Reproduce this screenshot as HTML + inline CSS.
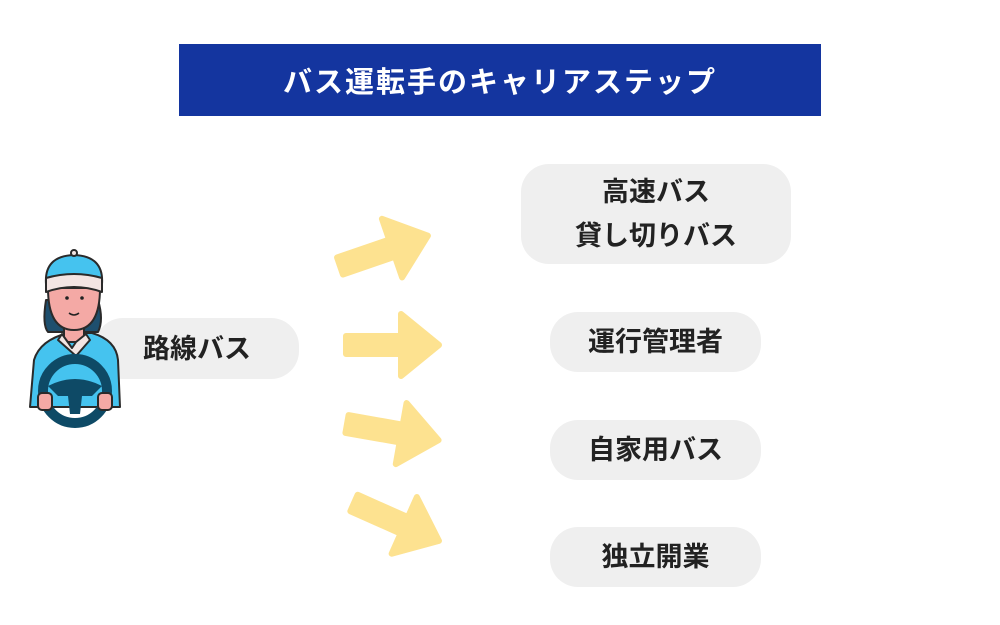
<!DOCTYPE html>
<html><head><meta charset="utf-8"><style>
body{margin:0;width:1000px;height:625px;background:#fff;position:relative;overflow:hidden;font-family:"Liberation Sans","Noto Sans CJK JP",sans-serif;}
.t{position:absolute;left:179px;top:44px;width:642px;height:72px;background:#14359f;color:#fff;font-size:29px;font-weight:bold;display:flex;align-items:center;justify-content:center;letter-spacing:2px}
.b{position:absolute;background:#efefef;border-radius:28px;display:flex;align-items:center;justify-content:center;text-align:center;font-size:27px;font-weight:bold;color:#222;line-height:44px}
</style></head><body>
<div class="t">バス運転手のキャリアステップ</div>
<div class="b" style="left:95px;top:318px;width:204px;height:61px;">路線バス</div>
<div class="b" style="left:521px;top:164px;width:270px;height:100px;">高速バス<br>貸し切りバス</div>
<div class="b" style="left:550px;top:312px;width:211px;height:60px;">運行管理者</div>
<div class="b" style="left:550px;top:420px;width:211px;height:60px;">自家用バス</div>
<div class="b" style="left:550px;top:527px;width:211px;height:60px;">独立開業</div>
<svg width="1000" height="625" style="position:absolute;left:0;top:0">
<defs><polygon id="ar" points="0,-9 55,-9 55,-31 93,0 55,31 55,9 0,9" fill="#fde290" stroke="#fde290" stroke-width="6" stroke-linejoin="round"/></defs>
<use href="#ar" transform="translate(340,266) rotate(-19)"/>
<use href="#ar" transform="translate(346,345)"/>
<use href="#ar" transform="translate(347,424) rotate(10)"/>
<use href="#ar" transform="translate(354,503) rotate(24)"/>
<g stroke="#2a2a2a" stroke-width="2" stroke-linejoin="round">
<path d="M30,407 L34,360 Q40,340 68,333 L92,333 Q116,340 118,360 L120,407 Z" fill="#45c3ef"/>
<path d="M46,300 Q42,325 48,332 L98,332 Q104,320 98,300 Z" fill="#1e4f6e"/>
<path d="M64,325 L64,342 L84,342 L84,325 Z" fill="#f4a9a5"/>
<path d="M62,334 L72,348 L76,342 L86,334 L90,340 L76,356 L58,340 Z" fill="#f3e5e3"/>
<path d="M48,288 Q48,330 74,330 Q100,330 100,288 Z" fill="#f4a9a5"/>
<path d="M46,284 Q44,256 74,255 Q104,256 102,284 Z" fill="#45c3ef"/>
<path d="M46,278 Q74,270 102,278 L102,292 Q74,282 46,292 Z" fill="#f3e5e3"/>
<circle cx="74" cy="253" r="3" fill="#f3e5e3"/>
<circle cx="75" cy="391" r="32" fill="none" stroke="#0e4a66" stroke-width="10"/>
<path d="M48,386 Q75,372 102,386 L92,396 L82,396 L80,414 L70,414 L68,396 L58,396 Z" fill="#0e4a66" stroke="none"/>
<rect x="38" y="393" width="14" height="17" rx="4" fill="#f4a9a5"/>
<rect x="98" y="393" width="14" height="17" rx="4" fill="#f4a9a5"/>
</g>
<circle cx="67" cy="298" r="1.8" fill="#222"/><circle cx="82" cy="298" r="1.8" fill="#222"/>
<path d="M69,313 Q74,317 79,313" stroke="#222" fill="none" stroke-width="1.5"/>
</svg>
</body></html>
